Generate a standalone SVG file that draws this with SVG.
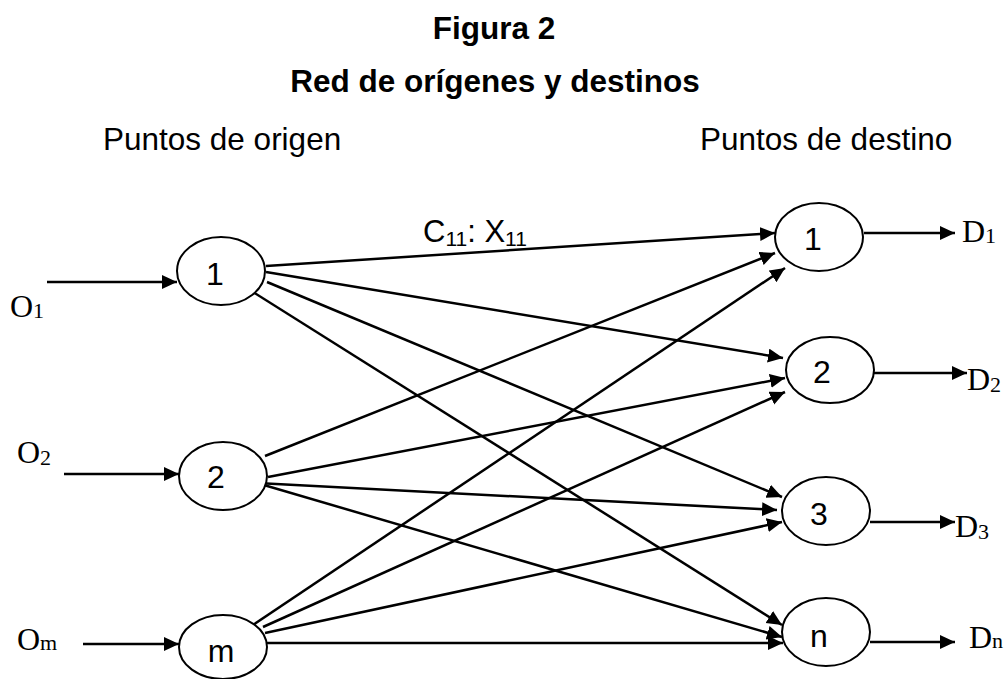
<svg xmlns="http://www.w3.org/2000/svg" width="1008" height="679" viewBox="0 0 1008 679">
<style>
.t{font-family:"Liberation Sans",Arial,sans-serif;font-size:31.5px;fill:#000}
.b{font-weight:bold}
.lbl{font-family:"Liberation Sans",Arial,sans-serif;font-size:32px;text-anchor:middle;fill:#000}
.s{font-family:"Liberation Serif","Times New Roman",serif;font-size:32px;fill:#000}
.node ellipse{fill:#fff;stroke:#000;stroke-width:2}
.edge line{stroke:#000;stroke-width:2.5;marker-end:url(#ah)}
</style>
<defs>
<marker id="ah" markerUnits="userSpaceOnUse" markerWidth="16" markerHeight="15" refX="15" refY="7" orient="auto">
<path d="M0,0 L15,7 L0,14 z" fill="#000"/>
</marker>
</defs>
<rect width="1008" height="679" fill="#fff"/>
<text class="t b" x="494" y="39" text-anchor="middle">Figura 2</text>
<text class="t b" x="495" y="92" text-anchor="middle">Red de orígenes y destinos</text>
<text class="t" x="103" y="150">Puntos de origen</text>
<text class="t" x="700" y="150">Puntos de destino</text>
<text class="t" x="423" y="242" style="font-size:31px">C<tspan font-size="21" dy="4">11</tspan><tspan dy="-4">: X</tspan><tspan font-size="21" dy="4">11</tspan></text>
<g class="edge" id="connectors">
<line x1="47" y1="282" x2="177" y2="282"/>
<line x1="64" y1="474" x2="179" y2="474"/>
<line x1="83" y1="644" x2="179" y2="644"/>
<line x1="266" y1="266" x2="775" y2="233"/>
<line x1="266" y1="272" x2="783" y2="358"/>
<line x1="267" y1="282" x2="782" y2="497"/>
<line x1="253" y1="292" x2="782" y2="625"/>
<line x1="265" y1="456" x2="775" y2="253"/>
<line x1="268" y1="477" x2="785" y2="378"/>
<line x1="257" y1="483" x2="777" y2="510"/>
<line x1="257" y1="483" x2="782" y2="637"/>
<line x1="253" y1="625" x2="785" y2="268"/>
<line x1="263" y1="627" x2="785" y2="392"/>
<line x1="265" y1="633" x2="782" y2="522"/>
<line x1="265" y1="643" x2="783" y2="643"/>
<line x1="864" y1="233" x2="955" y2="233"/>
<line x1="874" y1="373" x2="967" y2="373"/>
<line x1="870" y1="522" x2="955" y2="522"/>
<line x1="870" y1="642" x2="955" y2="642"/>
</g>
<g class="node" id="o1"><ellipse cx="221" cy="271" rx="44" ry="34"/><text class="lbl" x="215" y="285">1</text></g>
<g class="node" id="o2"><ellipse cx="223" cy="476" rx="44" ry="34"/><text class="lbl" x="216" y="488">2</text></g>
<g class="node" id="om"><ellipse cx="223" cy="647" rx="44" ry="32"/><text class="lbl" x="221" y="662">m</text></g>
<g class="node" id="d1"><ellipse cx="819" cy="237" rx="44" ry="34"/><text class="lbl" x="813" y="250">1</text></g>
<g class="node" id="d2"><ellipse cx="830" cy="370" rx="44" ry="33"/><text class="lbl" x="822" y="383">2</text></g>
<g class="node" id="d3"><ellipse cx="826" cy="511" rx="44" ry="34"/><text class="lbl" x="819" y="525">3</text></g>
<g class="node" id="dn"><ellipse cx="826" cy="632" rx="44" ry="34"/><text class="lbl" x="819" y="647">n</text></g>
<g id="labels">
<text class="s" x="10" y="317">O<tspan font-size="22" dy="1">1</tspan></text>
<text class="s" x="17" y="463">O<tspan font-size="22" dy="2">2</tspan></text>
<text class="s" x="17" y="650">O<tspan font-size="22" dy="0">m</tspan></text>
<text class="s" x="962" y="242">D<tspan font-size="22" dy="1">1</tspan></text>
<text class="s" x="967" y="390">D<tspan font-size="22" dy="2">2</tspan></text>
<text class="s" x="955" y="537">D<tspan font-size="22" dy="2">3</tspan></text>
<text class="s" x="969" y="648">D<tspan font-size="22" dy="0">n</tspan></text>
</g>
</svg>
